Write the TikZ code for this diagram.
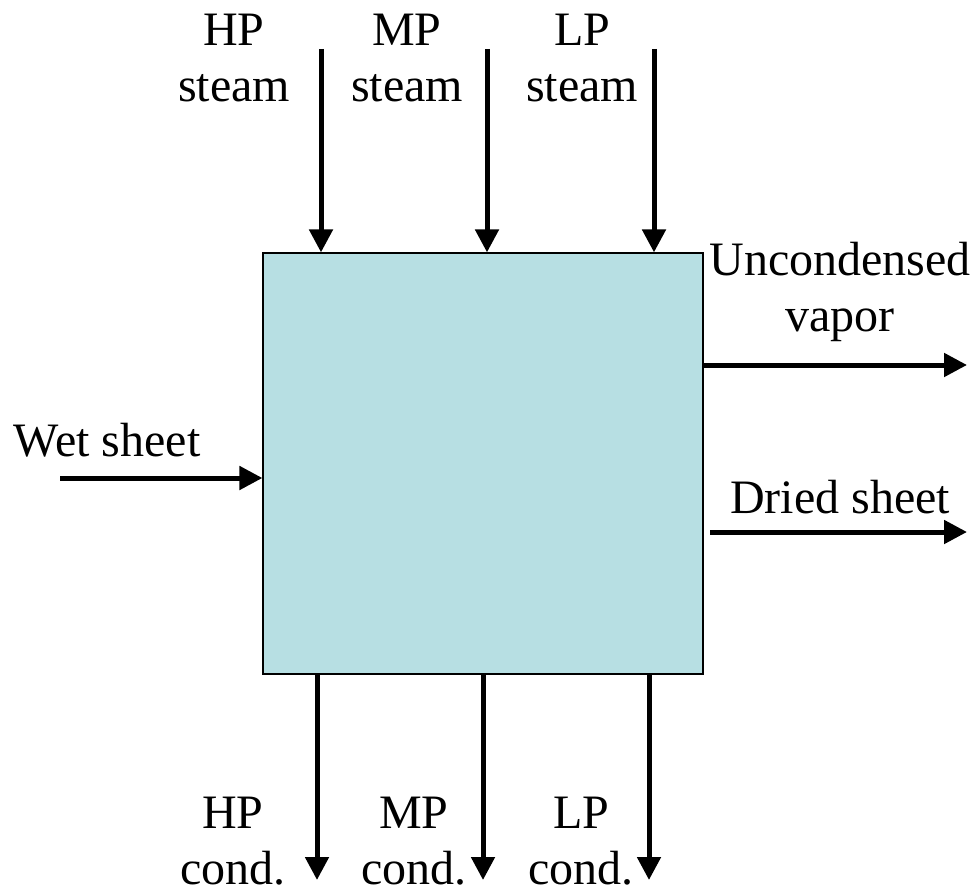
\documentclass[tikz,border=0pt]{standalone}
\usepackage{fontspec}
\setmainfont{Liberation Serif}
\usetikzlibrary{arrows.meta}
\definecolor{boxfill}{RGB}{183,223,227}
\begin{document}
\begin{tikzpicture}[x=1pt,y=-1pt,
  flow/.style={line width=5pt,-{Triangle[length=23pt,width=23pt]}},
  lbl/.style={font=\fontsize{48}{56}\selectfont,inner sep=0pt,align=center},
  unit/.style={draw=black,line width=1.2pt,fill=boxfill,minimum width=440pt,minimum height=421pt,inner sep=0pt}]
\useasboundingbox (0,0) rectangle (979,893);
\node[unit] (box) at (483,463.5) {};
% top steam
\coordinate (hpin) at (321,49);
\coordinate (mpin) at (487,49);
\coordinate (lpin) at (654,49);
\draw[flow] (hpin) -- (hpin |- box.north);
\draw[flow] (mpin) -- (mpin |- box.north);
\draw[flow] (lpin) -- (lpin |- box.north);
\node[lbl] (hpl) at (234,58) {HP\\steam};
\node[lbl] (mpl) at (407,58) {MP\\steam};
\node[lbl] (lpl) at (582,58) {LP\\steam};
% bottom condensate
\coordinate (hpout) at (317,880);
\coordinate (mpout) at (483,880);
\coordinate (lpout) at (649,880);
\draw[flow] (hpout |- box.south) -- (hpout);
\draw[flow] (mpout |- box.south) -- (mpout);
\draw[flow] (lpout |- box.south) -- (lpout);
\node[lbl] (hpc) at (233,841) {HP\\cond.};
\node[lbl] (mpc) at (414,841) {MP\\cond.};
\node[lbl] (lpc) at (581,841) {LP\\cond.};
% left
\coordinate (wetin) at (60,478);
\draw[flow] (wetin) -- (wetin -| box.west);
\node[lbl] (wet) at (107,440) {Wet sheet};
% right
\coordinate (vapout) at (967,365);
\draw[flow] (vapout -| box.east) -- (vapout);
\node[lbl] (vap) at (840,292) {Uncondensed\\vapor};
\coordinate (dryout) at (967,532);
\coordinate (drystart) at (710,532);
\draw[flow] (drystart) -- (dryout);
\node[lbl] (dry) at (840,497) {Dried sheet};
\end{tikzpicture}
\end{document}
